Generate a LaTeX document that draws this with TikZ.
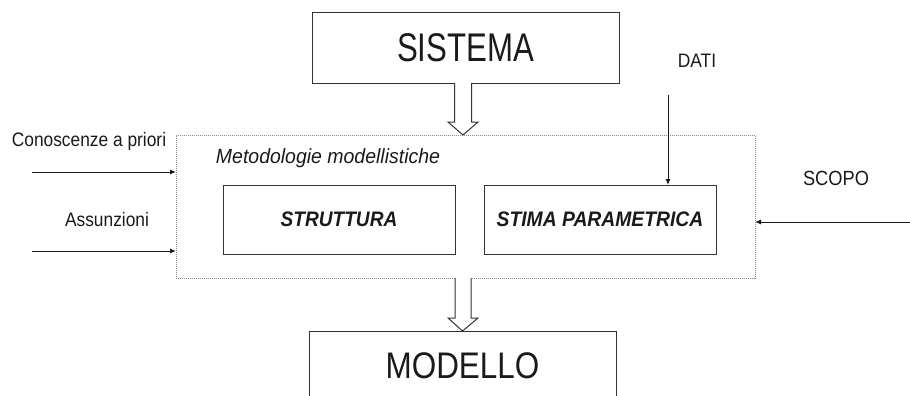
\documentclass[tikz,border=0pt]{standalone}
\usepackage{fontspec}
\usepackage{graphicx}
\setmainfont{Liberation Sans}
\usetikzlibrary{calc,arrows.meta}
\definecolor{ink}{HTML}{1A1A1A}
\definecolor{frame}{HTML}{333333}
\definecolor{dotline}{HTML}{8A8A8A}
% horizontally condensed text
\newcommand\narrowtxt[2]{\scalebox{#1}[1]{#2}}
\begin{document}
\begin{tikzpicture}[x=1pt,y=-1pt,
  every node/.style={text=ink, inner sep=0pt, outer sep=0pt},
  bigbox/.style={draw=frame, line width=1pt, minimum width=307pt, minimum height=70pt,
                 font=\fontsize{40}{40}\selectfont},
  innerbox/.style={draw=frame, line width=1pt, minimum width=232pt, minimum height=69pt,
                   font=\fontsize{21}{21}\selectfont\bfseries\itshape},
  methframe/.style={draw=dotline, line width=1pt, dash pattern=on 1pt off 1pt,
                    minimum width=579pt, minimum height=143pt},
  lbl/.style={font=\fontsize{19.5}{19.5}\selectfont},
  thin/.style={draw=ink, line width=1pt, -{Latex[length=6pt,width=5pt]}},
  hollow/.style={draw=frame, line width=1pt, fill=white, line join=miter}
]
\useasboundingbox (0,0) rectangle (910,396);
\clip (0,0) rectangle (910,396);

% main blocks
\node[bigbox] (sis) at (465.5,48) {\narrowtxt{0.78}{SISTEMA}};
\node[methframe] (meth) at (465.5,206.5) {};
\node[font=\fontsize{20.5}{20.5}\selectfont\itshape] (methlbl) at (328,158)
  {\narrowtxt{0.95}{Metodologie modellistiche}};
\node[innerbox] (str) at (339,219.5) {\narrowtxt{0.91}{STRUTTURA}};
\node[innerbox] (stima) at (600,219.5) {\narrowtxt{0.92}{STIMA PARAMETRICA}};
\node[bigbox, font=\fontsize{37}{37}\selectfont] (mod) at (462.5,366) {\narrowtxt{0.85}{MODELLO}};

% hollow flow arrows
\draw[hollow] ($(sis.south)+(-11,0)$) -- ($(meth.north)+(-11,-13)$) -- ++(-6.5,0)
  -- ($(meth.north)+(-2.5,0)$) -- ($(meth.north)+(12.5,-13)$) -- ++(-6.5,0)
  -- ($(sis.south)+(6,0)$);
\draw[hollow] ($(meth.south)+(-10.5,0)$) -- ($(mod.north)+(-7.5,-13)$) -- ++(-7,0)
  -- ($(mod.north)+(0,0)$) -- ($(mod.north)+(15.5,-13)$) -- ++(-7,0)
  -- ($(meth.south)+(5.5,0)$);

% side labels
\node[lbl] (apriori) at (89,141) {\narrowtxt{0.89}{Conoscenze a priori}};
\node[lbl] (assunz) at (107,219.5) {\narrowtxt{0.89}{Assunzioni}};
\node[lbl] (dati) at (697,61) {\narrowtxt{0.89}{DATI}};
\node[lbl, font=\fontsize{20.5}{20.5}\selectfont] (scopo) at (836,178.5) {\narrowtxt{0.89}{SCOPO}};

% input arrows
\coordinate (aprioriIn) at (32,172);
\coordinate (assunzIn) at (32,251);
\coordinate (datiIn) at (668,95);
\coordinate (scopoIn) at (910,222);
\draw[thin] (aprioriIn) -- (aprioriIn -| meth.west);
\draw[thin] (assunzIn) -- (assunzIn -| meth.west);
\draw[thin] (datiIn) -- (datiIn |- stima.north);
\draw[thin] (scopoIn) -- (scopoIn -| meth.east);
\end{tikzpicture}
\end{document}
